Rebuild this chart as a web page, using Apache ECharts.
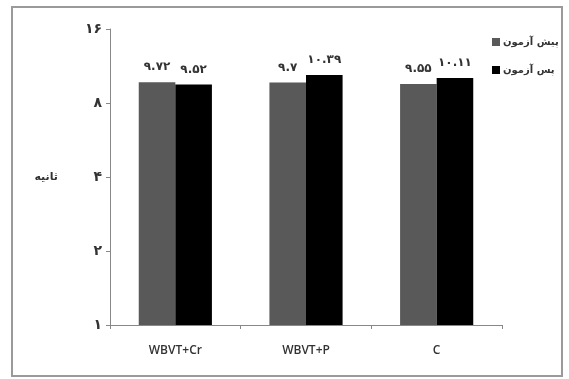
<!DOCTYPE html>
<html>
<head>
<meta charset="utf-8">
<script src="https://cdn.jsdelivr.net/npm/echarts@6/dist/echarts.min.js"></script>
<style>html,body{margin:0;padding:0;background:#fff}#c{width:569px;height:379px}</style>
</head>
<body>
<div id="c"></div>
<script>
const categories = ['WBVT+Cr', 'WBVT+P', 'C'];
const preTest = [9.72, 9.7, 9.55];
const postTest = [9.52, 10.39, 10.11];
const seriesNames = ['پیش آزمون', 'پس آزمون'];
const yAxisName = 'ثانیه';

const faDigits = '۰۱۲۳۴۵۶۷۸۹';
function toFa(s) { return String(s).replace(/[0-9]/g, d => faDigits[+d]); }

const chart = echarts.init(document.getElementById('c'));
chart.setOption({
  animation: false,
  backgroundColor: '#fff',
  graphic: [{
    type: 'rect', shape: { x: 12, y: 7, width: 550, height: 369 },
    style: { fill: 'none', stroke: '#9a9a9a', lineWidth: 2 }, silent: true
  }],
  grid: { left: 110, right: 67, top: 29, bottom: 54 },
  legend: {
    orient: 'vertical', left: 487, top: 32, itemWidth: 8, itemHeight: 8, itemGap: 18,
    icon: 'rect',
    textStyle: { fontFamily: 'DejaVu Sans', fontSize: 10, fontWeight: 'bold', color: '#333', padding: [0, 0, 0, -2] },
    data: seriesNames
  },
  xAxis: {
    type: 'category', data: categories,
    axisLine: { lineStyle: { color: '#888', width: 1 } },
    axisTick: { show: true, length: 4, lineStyle: { color: '#888' } },
    axisLabel: { margin: 20, fontFamily: 'Open Sans', fontSize: 12, fontWeight: 600, color: '#333' }
  },
  yAxis: {
    type: 'log', logBase: 2, min: 1, max: 16,
    name: yAxisName, nameLocation: 'middle', nameRotate: 0, nameGap: 52,
    nameTextStyle: { fontFamily: 'DejaVu Sans', fontSize: 11, fontWeight: 'bold', color: '#333', padding: [0, 0, 8, 0] },
    axisLine: { show: true, lineStyle: { color: '#888', width: 1 } },
    axisTick: { show: true, length: 4, lineStyle: { color: '#888' } },
    splitLine: { show: false },
    axisLabel: { margin: 8, fontFamily: 'DejaVu Sans', fontSize: 14, fontWeight: 'bold', color: '#333',
      formatter: v => toFa(Math.round(v)) }
  },
  series: [
    { name: seriesNames[0], type: 'bar', data: preTest, barWidth: '28%', barGap: '0%',
      itemStyle: { color: '#595959' },
      label: { show: true, position: 'top', distance: 9, fontFamily: 'DejaVu Sans', fontSize: 12, fontWeight: 'bold', color: '#333',
        formatter: p => toFa(p.value) } },
    { name: seriesNames[1], type: 'bar', data: postTest, barWidth: '28%',
      itemStyle: { color: '#000' },
      label: { show: true, position: 'top', distance: 9, fontFamily: 'DejaVu Sans', fontSize: 12, fontWeight: 'bold', color: '#333',
        formatter: p => toFa(p.value) } }
  ]
});
</script>
</body>
</html>
